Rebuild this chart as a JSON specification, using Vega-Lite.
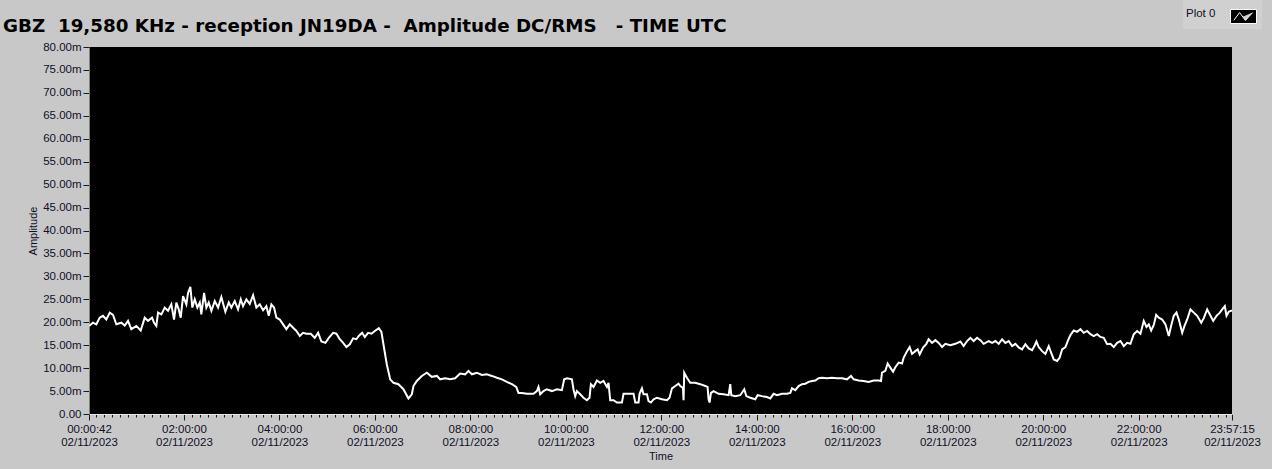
{
  "$schema": "https://vega.github.io/schema/vega-lite/v6.json",
  "autosize": "none",
  "width": 1143,
  "height": 367,
  "padding": {"left": 89, "top": 47, "right": 40, "bottom": 55},
  "background": "#c8c8c8",
  "title": {
    "text": "GBZ\u00a0 19,580 KHz - reception JN19DA -\u00a0 Amplitude DC/RMS\u00a0\u00a0 - TIME UTC",
    "anchor": "start",
    "frame": "group",
    "dx": -86,
    "offset": -36,
    "font": "DejaVu Sans",
    "fontSize": 18.3,
    "fontWeight": "bold",
    "color": "#000000"
  },
  "config": {
    "view": {"fill": "#000000", "stroke": null},
    "axis": {
      "labelFont": "Liberation Sans",
      "labelFontSize": 11.5,
      "labelColor": "#10102a",
      "titleFont": "Liberation Sans",
      "titleFontSize": 11,
      "titleFontWeight": "normal",
      "titleColor": "#10102a",
      "grid": false,
      "tickColor": "#1a1a1a"
    }
  },
  "data": {
    "values": [
      {"h": 0.012, "v": 19.2}, {"h": 0.096, "v": 19.9}, {"h": 0.165, "v": 19.55}, {"h": 0.236, "v": 21.0},
      {"h": 0.305, "v": 21.4}, {"h": 0.374, "v": 20.6}, {"h": 0.446, "v": 22.1}, {"h": 0.515, "v": 21.6},
      {"h": 0.584, "v": 19.55}, {"h": 0.689, "v": 19.9}, {"h": 0.760, "v": 19.3}, {"h": 0.829, "v": 20.3},
      {"h": 0.898, "v": 18.5}, {"h": 1.003, "v": 19.2}, {"h": 1.095, "v": 18.2}, {"h": 1.179, "v": 21.0},
      {"h": 1.248, "v": 20.3}, {"h": 1.332, "v": 21.0}, {"h": 1.374, "v": 19.9}, {"h": 1.422, "v": 19.2},
      {"h": 1.458, "v": 22.1}, {"h": 1.527, "v": 21.7}, {"h": 1.598, "v": 23.2}, {"h": 1.667, "v": 22.5},
      {"h": 1.736, "v": 23.9}, {"h": 1.793, "v": 20.6}, {"h": 1.841, "v": 24.3}, {"h": 1.891, "v": 22.8},
      {"h": 1.933, "v": 21.0}, {"h": 1.982, "v": 25.7}, {"h": 2.051, "v": 23.9}, {"h": 2.086, "v": 26.4},
      {"h": 2.135, "v": 27.7}, {"h": 2.176, "v": 23.2}, {"h": 2.227, "v": 25.0}, {"h": 2.281, "v": 23.2},
      {"h": 2.332, "v": 24.3}, {"h": 2.365, "v": 21.7}, {"h": 2.422, "v": 26.4}, {"h": 2.470, "v": 23.2},
      {"h": 2.520, "v": 24.3}, {"h": 2.575, "v": 22.5}, {"h": 2.646, "v": 24.6}, {"h": 2.715, "v": 23.2},
      {"h": 2.784, "v": 25.5}, {"h": 2.868, "v": 22.3}, {"h": 2.939, "v": 24.3}, {"h": 2.994, "v": 23.2},
      {"h": 3.065, "v": 24.6}, {"h": 3.134, "v": 22.8}, {"h": 3.191, "v": 25.0}, {"h": 3.239, "v": 23.5},
      {"h": 3.308, "v": 25.0}, {"h": 3.379, "v": 24.0}, {"h": 3.449, "v": 25.9}, {"h": 3.518, "v": 23.2},
      {"h": 3.589, "v": 23.9}, {"h": 3.658, "v": 22.6}, {"h": 3.727, "v": 23.5}, {"h": 3.777, "v": 21.4},
      {"h": 3.832, "v": 23.9}, {"h": 3.888, "v": 23.2}, {"h": 3.937, "v": 21.0}, {"h": 4.008, "v": 20.6},
      {"h": 4.077, "v": 19.55}, {"h": 4.146, "v": 18.5}, {"h": 4.217, "v": 19.55}, {"h": 4.287, "v": 18.8},
      {"h": 4.356, "v": 18.1}, {"h": 4.427, "v": 17.0}, {"h": 4.496, "v": 17.7}, {"h": 4.565, "v": 17.5},
      {"h": 4.658, "v": 17.5}, {"h": 4.741, "v": 16.6}, {"h": 4.811, "v": 17.7}, {"h": 4.880, "v": 15.8},
      {"h": 4.964, "v": 15.5}, {"h": 5.035, "v": 16.6}, {"h": 5.125, "v": 17.7}, {"h": 5.194, "v": 17.5},
      {"h": 5.265, "v": 16.3}, {"h": 5.335, "v": 15.5}, {"h": 5.404, "v": 14.6}, {"h": 5.475, "v": 15.2},
      {"h": 5.544, "v": 16.5}, {"h": 5.613, "v": 16.3}, {"h": 5.663, "v": 17.0}, {"h": 5.733, "v": 17.7},
      {"h": 5.789, "v": 16.8}, {"h": 5.858, "v": 17.7}, {"h": 5.928, "v": 17.5}, {"h": 5.999, "v": 18.1},
      {"h": 6.083, "v": 18.7}, {"h": 6.137, "v": 17.9}, {"h": 6.179, "v": 15.2}, {"h": 6.250, "v": 10.8},
      {"h": 6.320, "v": 7.56}, {"h": 6.389, "v": 6.8}, {"h": 6.493, "v": 6.5}, {"h": 6.598, "v": 5.4},
      {"h": 6.703, "v": 3.4}, {"h": 6.774, "v": 4.3}, {"h": 6.808, "v": 6.1}, {"h": 6.879, "v": 7.2},
      {"h": 6.983, "v": 8.3}, {"h": 7.088, "v": 9.0}, {"h": 7.193, "v": 8.1}, {"h": 7.298, "v": 8.3},
      {"h": 7.367, "v": 7.56}, {"h": 7.472, "v": 7.8}, {"h": 7.577, "v": 7.56}, {"h": 7.681, "v": 7.8},
      {"h": 7.786, "v": 8.8}, {"h": 7.891, "v": 8.65}, {"h": 7.960, "v": 9.4}, {"h": 8.032, "v": 8.65},
      {"h": 8.136, "v": 9.0}, {"h": 8.241, "v": 8.5}, {"h": 8.346, "v": 8.65}, {"h": 8.451, "v": 8.3},
      {"h": 8.556, "v": 7.9}, {"h": 8.660, "v": 7.56}, {"h": 8.765, "v": 7.0}, {"h": 8.870, "v": 6.5},
      {"h": 8.960, "v": 5.9}, {"h": 9.008, "v": 4.6}, {"h": 9.079, "v": 4.6}, {"h": 9.184, "v": 4.4},
      {"h": 9.322, "v": 4.4}, {"h": 9.393, "v": 5.0}, {"h": 9.427, "v": 5.9}, {"h": 9.463, "v": 4.3},
      {"h": 9.532, "v": 5.0}, {"h": 9.603, "v": 5.4}, {"h": 9.708, "v": 5.0}, {"h": 9.812, "v": 5.4},
      {"h": 9.917, "v": 5.2}, {"h": 9.966, "v": 7.56}, {"h": 10.022, "v": 7.8}, {"h": 10.127, "v": 7.56},
      {"h": 10.160, "v": 5.4}, {"h": 10.196, "v": 3.9}, {"h": 10.231, "v": 5.0}, {"h": 10.301, "v": 4.3},
      {"h": 10.370, "v": 3.55}, {"h": 10.441, "v": 3.0}, {"h": 10.496, "v": 3.55}, {"h": 10.525, "v": 6.5},
      {"h": 10.580, "v": 5.9}, {"h": 10.651, "v": 7.3}, {"h": 10.720, "v": 6.8}, {"h": 10.789, "v": 7.2},
      {"h": 10.861, "v": 5.9}, {"h": 10.894, "v": 6.8}, {"h": 10.930, "v": 3.0}, {"h": 10.999, "v": 3.0},
      {"h": 11.070, "v": 2.5}, {"h": 11.175, "v": 2.5}, {"h": 11.209, "v": 4.4}, {"h": 11.313, "v": 4.4},
      {"h": 11.418, "v": 4.4}, {"h": 11.454, "v": 2.5}, {"h": 11.523, "v": 2.5}, {"h": 11.544, "v": 4.4},
      {"h": 11.594, "v": 5.6}, {"h": 11.628, "v": 4.3}, {"h": 11.699, "v": 4.3}, {"h": 11.732, "v": 2.8},
      {"h": 11.782, "v": 2.5}, {"h": 11.838, "v": 3.2}, {"h": 11.909, "v": 3.55}, {"h": 12.013, "v": 3.2},
      {"h": 12.118, "v": 3.0}, {"h": 12.172, "v": 3.55}, {"h": 12.223, "v": 5.6}, {"h": 12.292, "v": 6.1},
      {"h": 12.361, "v": 6.6}, {"h": 12.397, "v": 6.1}, {"h": 12.453, "v": 5.7}, {"h": 12.466, "v": 3.0},
      {"h": 12.480, "v": 9.0}, {"h": 12.537, "v": 7.9}, {"h": 12.606, "v": 6.8}, {"h": 12.711, "v": 6.8},
      {"h": 12.816, "v": 6.5}, {"h": 12.921, "v": 6.1}, {"h": 12.969, "v": 5.9}, {"h": 12.990, "v": 3.2},
      {"h": 13.011, "v": 2.5}, {"h": 13.040, "v": 4.6}, {"h": 13.095, "v": 5.0}, {"h": 13.199, "v": 4.4},
      {"h": 13.304, "v": 4.3}, {"h": 13.409, "v": 4.1}, {"h": 13.444, "v": 6.5}, {"h": 13.465, "v": 4.1},
      {"h": 13.549, "v": 3.9}, {"h": 13.654, "v": 4.1}, {"h": 13.738, "v": 5.4}, {"h": 13.780, "v": 3.9},
      {"h": 13.864, "v": 3.55}, {"h": 13.968, "v": 3.2}, {"h": 14.017, "v": 4.1}, {"h": 14.109, "v": 3.9},
      {"h": 14.214, "v": 3.7}, {"h": 14.283, "v": 3.4}, {"h": 14.352, "v": 4.4}, {"h": 14.423, "v": 4.1},
      {"h": 14.528, "v": 4.4}, {"h": 14.633, "v": 4.4}, {"h": 14.702, "v": 4.6}, {"h": 14.737, "v": 5.6},
      {"h": 14.807, "v": 5.2}, {"h": 14.876, "v": 6.1}, {"h": 14.947, "v": 6.5}, {"h": 15.016, "v": 6.6},
      {"h": 15.085, "v": 7.0}, {"h": 15.157, "v": 7.2}, {"h": 15.226, "v": 7.3}, {"h": 15.295, "v": 7.8},
      {"h": 15.366, "v": 7.9}, {"h": 15.471, "v": 7.8}, {"h": 15.575, "v": 7.9}, {"h": 15.680, "v": 7.8},
      {"h": 15.785, "v": 7.8}, {"h": 15.890, "v": 7.56}, {"h": 15.974, "v": 8.3}, {"h": 16.029, "v": 7.56},
      {"h": 16.133, "v": 7.3}, {"h": 16.238, "v": 7.2}, {"h": 16.343, "v": 7.0}, {"h": 16.448, "v": 7.3},
      {"h": 16.552, "v": 7.3}, {"h": 16.602, "v": 7.2}, {"h": 16.623, "v": 9.0}, {"h": 16.693, "v": 9.4},
      {"h": 16.741, "v": 11.0}, {"h": 16.797, "v": 10.1}, {"h": 16.854, "v": 9.2}, {"h": 16.902, "v": 10.2},
      {"h": 16.972, "v": 11.2}, {"h": 17.043, "v": 11.0}, {"h": 17.077, "v": 12.3}, {"h": 17.148, "v": 13.7},
      {"h": 17.202, "v": 14.6}, {"h": 17.252, "v": 13.1}, {"h": 17.321, "v": 13.7}, {"h": 17.370, "v": 14.1},
      {"h": 17.412, "v": 13.0}, {"h": 17.483, "v": 14.5}, {"h": 17.552, "v": 15.3}, {"h": 17.600, "v": 16.3},
      {"h": 17.671, "v": 15.5}, {"h": 17.740, "v": 16.1}, {"h": 17.810, "v": 15.5}, {"h": 17.881, "v": 14.6},
      {"h": 17.950, "v": 15.3}, {"h": 18.055, "v": 15.0}, {"h": 18.159, "v": 15.3}, {"h": 18.264, "v": 15.8},
      {"h": 18.333, "v": 14.8}, {"h": 18.405, "v": 15.9}, {"h": 18.474, "v": 16.6}, {"h": 18.543, "v": 15.9},
      {"h": 18.614, "v": 16.6}, {"h": 18.683, "v": 16.1}, {"h": 18.753, "v": 15.3}, {"h": 18.857, "v": 15.9},
      {"h": 18.929, "v": 15.5}, {"h": 18.998, "v": 15.9}, {"h": 19.067, "v": 15.3}, {"h": 19.138, "v": 16.3},
      {"h": 19.207, "v": 15.5}, {"h": 19.277, "v": 15.9}, {"h": 19.348, "v": 14.8}, {"h": 19.417, "v": 15.3},
      {"h": 19.486, "v": 14.5}, {"h": 19.557, "v": 14.1}, {"h": 19.626, "v": 15.2}, {"h": 19.696, "v": 14.3},
      {"h": 19.767, "v": 13.9}, {"h": 19.815, "v": 14.8}, {"h": 19.857, "v": 15.8}, {"h": 19.905, "v": 14.6},
      {"h": 19.976, "v": 13.7}, {"h": 20.045, "v": 13.1}, {"h": 20.115, "v": 14.8}, {"h": 20.165, "v": 13.4},
      {"h": 20.220, "v": 11.9}, {"h": 20.291, "v": 11.55}, {"h": 20.345, "v": 12.3}, {"h": 20.396, "v": 14.1},
      {"h": 20.465, "v": 14.6}, {"h": 20.513, "v": 15.9}, {"h": 20.570, "v": 17.2}, {"h": 20.639, "v": 18.2},
      {"h": 20.710, "v": 17.9}, {"h": 20.779, "v": 18.5}, {"h": 20.848, "v": 17.7}, {"h": 20.920, "v": 18.1},
      {"h": 20.989, "v": 17.4}, {"h": 21.058, "v": 17.0}, {"h": 21.129, "v": 17.4}, {"h": 21.198, "v": 16.8},
      {"h": 21.268, "v": 16.6}, {"h": 21.339, "v": 15.2}, {"h": 21.408, "v": 15.3}, {"h": 21.477, "v": 14.6},
      {"h": 21.548, "v": 15.5}, {"h": 21.618, "v": 15.9}, {"h": 21.687, "v": 14.8}, {"h": 21.758, "v": 15.5},
      {"h": 21.827, "v": 15.3}, {"h": 21.897, "v": 17.4}, {"h": 21.968, "v": 18.1}, {"h": 22.037, "v": 17.5},
      {"h": 22.106, "v": 20.3}, {"h": 22.163, "v": 19.0}, {"h": 22.211, "v": 19.55}, {"h": 22.261, "v": 18.2},
      {"h": 22.316, "v": 19.4}, {"h": 22.366, "v": 21.6}, {"h": 22.420, "v": 21.0}, {"h": 22.492, "v": 20.6},
      {"h": 22.561, "v": 19.55}, {"h": 22.630, "v": 17.0}, {"h": 22.687, "v": 19.55}, {"h": 22.735, "v": 21.4},
      {"h": 22.791, "v": 22.1}, {"h": 22.840, "v": 20.6}, {"h": 22.911, "v": 17.7}, {"h": 22.959, "v": 19.2},
      {"h": 23.015, "v": 20.6}, {"h": 23.084, "v": 22.8}, {"h": 23.154, "v": 22.1}, {"h": 23.225, "v": 21.4},
      {"h": 23.309, "v": 19.9}, {"h": 23.363, "v": 20.9}, {"h": 23.434, "v": 22.8}, {"h": 23.504, "v": 21.4},
      {"h": 23.560, "v": 20.3}, {"h": 23.630, "v": 21.4}, {"h": 23.699, "v": 22.1}, {"h": 23.749, "v": 22.8},
      {"h": 23.804, "v": 23.5}, {"h": 23.839, "v": 21.4}, {"h": 23.887, "v": 22.3}, {"h": 23.954, "v": 22.6}
    ]
  },
  "mark": {"type": "line", "strokeWidth": 2, "clip": true, "interpolate": "linear"},
  "encoding": {
    "x": {
      "field": "h",
      "type": "quantitative",
      "scale": {"domain": [0.011667, 23.954167], "nice": false, "zero": false},
      "axis": {
        "title": "Time",
        "titlePadding": 3,
        "values": [0.011667, 0.1667, 0.3333, 0.5, 0.6667, 0.8333, 1, 1.1667, 1.3333, 1.5, 1.6667, 1.8333, 2,
          2.1667, 2.3333, 2.5, 2.6667, 2.8333, 3, 3.1667, 3.3333, 3.5, 3.6667, 3.8333, 4,
          4.1667, 4.3333, 4.5, 4.6667, 4.8333, 5, 5.1667, 5.3333, 5.5, 5.6667, 5.8333, 6,
          6.1667, 6.3333, 6.5, 6.6667, 6.8333, 7, 7.1667, 7.3333, 7.5, 7.6667, 7.8333, 8,
          8.1667, 8.3333, 8.5, 8.6667, 8.8333, 9, 9.1667, 9.3333, 9.5, 9.6667, 9.8333, 10,
          10.1667, 10.3333, 10.5, 10.6667, 10.8333, 11, 11.1667, 11.3333, 11.5, 11.6667, 11.8333, 12,
          12.1667, 12.3333, 12.5, 12.6667, 12.8333, 13, 13.1667, 13.3333, 13.5, 13.6667, 13.8333, 14,
          14.1667, 14.3333, 14.5, 14.6667, 14.8333, 15, 15.1667, 15.3333, 15.5, 15.6667, 15.8333, 16,
          16.1667, 16.3333, 16.5, 16.6667, 16.8333, 17, 17.1667, 17.3333, 17.5, 17.6667, 17.8333, 18,
          18.1667, 18.3333, 18.5, 18.6667, 18.8333, 19, 19.1667, 19.3333, 19.5, 19.6667, 19.8333, 20,
          20.1667, 20.3333, 20.5, 20.6667, 20.8333, 21, 21.1667, 21.3333, 21.5, 21.6667, 21.8333, 22,
          22.1667, 22.3333, 22.5, 22.6667, 22.8333, 23, 23.1667, 23.3333, 23.5, 23.6667, 23.8333, 23.954167],
        "labelExpr": "(abs(datum.value/2-round(datum.value/2))<0.001 || datum.value<0.1 || datum.value>23.9) ? [utcFormat(datum.value*3600000,'%H:%M:%S'), '02/11/2023'] : ''",
        "tickSize": {"condition": {"test": "abs(datum.value/2-round(datum.value/2))<0.001 || datum.value<0.1 || datum.value>23.9", "value": 6}, "value": 3},
        "labelOverlap": false,
        "labelFlush": false,
        "labelBaseline": "top",
        "labelPadding": 3,
        "labelLineHeight": 13,
        "domainColor": "#e8e8e8",
        "domainWidth": 1
      }
    },
    "y": {
      "field": "v",
      "type": "quantitative",
      "scale": {"domain": [0, 80], "nice": false},
      "axis": {
        "title": "Amplitude",
        "titlePadding": 4,
        "values": [0, 5, 10, 15, 20, 25, 30, 35, 40, 45, 50, 55, 60, 65, 70, 75, 80],
        "labelExpr": "datum.value == 0 ? '0.00' : format(datum.value, '.2f') + 'm'",
        "tickSize": 6,
        "labelPadding": 2,
        "domainColor": "#808080"
      }
    },
    "stroke": {
      "datum": "Plot 0",
      "type": "nominal",
      "scale": {"range": ["#ffffff"]},
      "legend": {
        "orient": "none",
        "legendX": 1094,
        "legendY": -47,
        "title": "Plot 0",
        "titleOrient": "left",
        "titleFont": "Liberation Sans",
        "titleFontSize": 11.5,
        "titleFontWeight": "normal",
        "titleColor": "#10102a",
        "titlePadding": 14,
        "labelExpr": "''",
        "labelOffset": 0,
        "fillColor": "#d0d0d0",
        "padding": 3,
        "symbolType": "M-1,-0.54H1V0.54H-1Z M-0.75,0.3L-0.3,-0.3L0.15,0.3L0.7,-0.3",
        "symbolSize": 676,
        "symbolFillColor": "#000000",
        "symbolStrokeWidth": 1,
        "encode": {
          "symbols": {
            "update": {
              "fill": {"value": "#000000"},
              "stroke": {"value": "#ffffff"},
              "strokeWidth": {"value": 1}
            }
          }
        }
      }
    }
  }
}
